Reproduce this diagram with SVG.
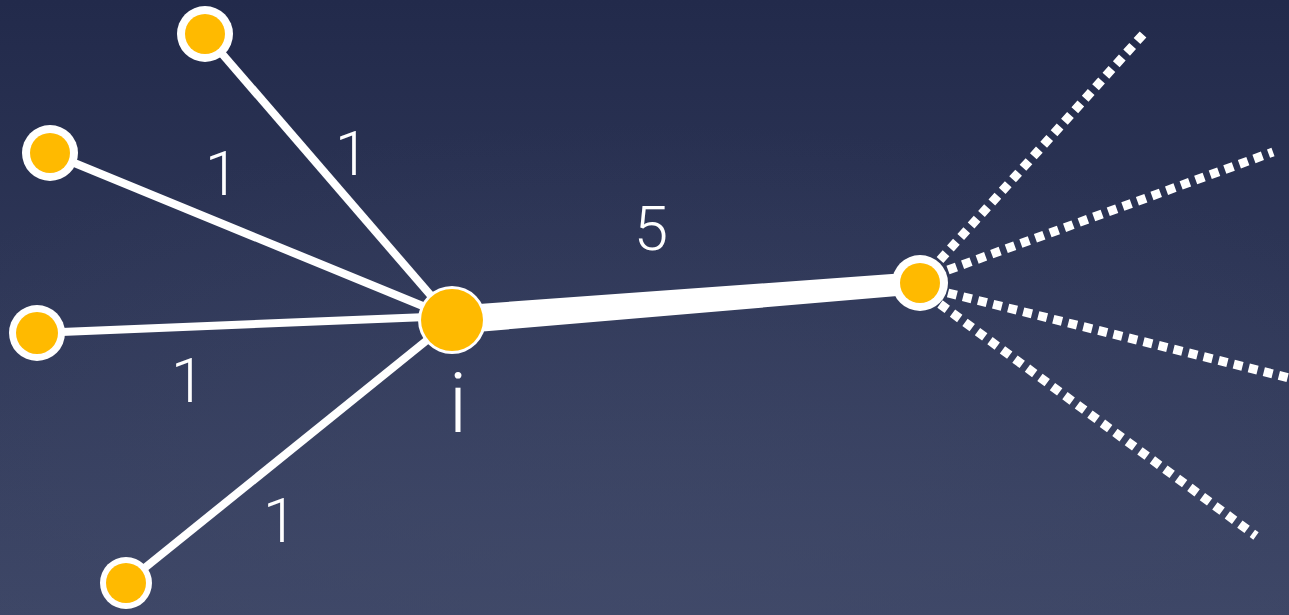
<svg xmlns="http://www.w3.org/2000/svg" width="1289" height="615" viewBox="0 0 1289 615">
  <defs>
    <linearGradient id="bg" x1="0" y1="0" x2="0" y2="1">
      <stop offset="0" stop-color="#222a4b"/>
      <stop offset="1" stop-color="#3c4565"/>
    </linearGradient>
    <radialGradient id="glow" cx="0.5" cy="1" r="0.8">
      <stop offset="0" stop-color="#434c6b" stop-opacity="0.6"/>
      <stop offset="1" stop-color="#434c6b" stop-opacity="0"/>
    </radialGradient>
  </defs>
  <style>
    .edge { stroke: #ffffff; stroke-width: 8; fill: none; }
    .dotted { stroke: #ffffff; stroke-width: 9; fill: none; stroke-dasharray: 9 6.5; stroke-linejoin: round; }
    .ring { fill: #ffffff; }
    .core { fill: #ffba00; }
    .lbl { fill: #ffffff; font-family: Roboto, "Liberation Sans", sans-serif; font-weight: 300; font-size: 62px; text-anchor: middle; }
    .big { font-size: 84px; }
  </style>
  <rect width="1289" height="615" fill="url(#bg)"/>
  <rect width="1289" height="615" fill="url(#glow)"/>

  <g id="connectors">
    <line class="edge" x1="205" y1="34" x2="452" y2="320"/>
    <line class="edge" x1="50" y1="153" x2="452" y2="318"/>
    <line class="edge" x1="37" y1="333" x2="452" y2="316"/>
    <line class="edge" x1="126" y1="583" x2="452" y2="320"/>
    <polygon fill="#ffffff" points="451,306 919,272 921,294 453,334"/>
    <line class="dotted" x1="940" y1="260" x2="1147" y2="30"/>
    <line class="dotted" x1="948" y1="270" x2="1273" y2="152"/>
    <line class="dotted" x1="948" y1="293" x2="1289" y2="378"/>
    <line class="dotted" x1="940" y1="304" x2="1256" y2="536"/>
  </g>

  <g id="node-top">
    <circle class="ring" cx="205" cy="34" r="28"/>
    <circle class="core" cx="205" cy="34" r="20"/>
  </g>
  <g id="node-upper-left">
    <circle class="ring" cx="50" cy="153" r="28"/>
    <circle class="core" cx="50" cy="153" r="20"/>
  </g>
  <g id="node-left">
    <circle class="ring" cx="37" cy="333" r="28"/>
    <circle class="core" cx="37" cy="333" r="21"/>
  </g>
  <g id="node-bottom">
    <circle class="ring" cx="126" cy="583" r="26"/>
    <circle class="core" cx="126" cy="583" r="20"/>
  </g>
  <g id="node-i">
    <circle class="ring" cx="452" cy="320" r="34"/>
    <circle class="core" cx="452" cy="320" r="31"/>
    <text class="lbl big" x="458" y="432">i</text>
  </g>
  <g id="node-right">
    <circle class="ring" cx="920" cy="283" r="28"/>
    <circle class="core" cx="920" cy="283" r="20"/>
  </g>

  <g id="labels">
    <text class="lbl" x="352" y="175">1</text>
    <text class="lbl" x="222" y="195">1</text>
    <text class="lbl" x="188" y="402">1</text>
    <text class="lbl" x="280" y="542">1</text>
    <text class="lbl" x="651" y="250">5</text>
  </g>
</svg>
